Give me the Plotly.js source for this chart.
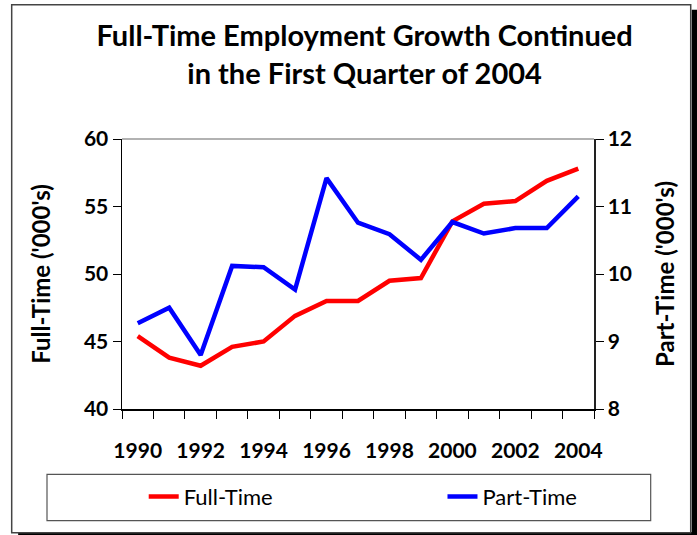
<!DOCTYPE html>
<html>
<head>
<meta charset="utf-8">
<script src="https://cdn.plot.ly/plotly-3.0.1.min.js"></script>
<style>
  body { margin: 0; background: #fff; }
  #chart { width: 697px; height: 535px; }
</style>
</head>
<body>
<div id="chart"></div>
<script>
const years = [1990, 1991, 1992, 1993, 1994, 1995, 1996, 1997, 1998, 1999, 2000, 2001, 2002, 2003, 2004];
const fullTime = [45.4, 43.8, 43.2, 44.6, 45.0, 46.9, 48.0, 48.0, 49.5, 49.7, 53.9, 55.2, 55.4, 56.9, 57.8];
const partTime = [9.27, 9.50, 8.80, 10.12, 10.10, 9.77, 11.42, 10.76, 10.59, 10.21, 10.77, 10.60, 10.68, 10.68, 11.15];
const yearTicks = [1990, 1992, 1994, 1996, 1998, 2000, 2002, 2004];
const yearLabels = ['1990', '1992', '1994', '1996', '1998', '2000', '2002', '2004'];

const font = 'Lato, "Open Sans", sans-serif';

const data = [
    {
        x: years,
        y: fullTime,
        name: 'Full-Time',
        type: 'scatter',
        mode: 'lines',
        legend: 'legend',
        line: {color: '#ff0000', width: 4.5}
    },
    {
        x: years,
        y: partTime,
        name: 'Part-Time',
        type: 'scatter',
        mode: 'lines',
        yaxis: 'y2',
        legend: 'legend2',
        line: {color: '#0000ff', width: 4.5}
    }
];

const legendStyle = {
    orientation: 'h',
    xanchor: 'left',
    y: -0.325, yanchor: 'middle',
    bgcolor: 'rgba(0,0,0,0)',
    borderwidth: 0,
    font: {size: 22, family: font, color: '#000'}
};

const layout = {
    width: 697,
    height: 535,
    margin: {l: 122, r: 103, t: 139, b: 126},
    paper_bgcolor: '#fff',
    plot_bgcolor: '#fff',
    font: {family: font, color: '#000'},
    title: {
        text: '<b>Full-Time Employment Growth Continued<br>in the First Quarter of 2004</b>',
        font: {size: 29, family: font, color: '#000'},
        xref: 'paper', x: 0.514, xanchor: 'center',
        yref: 'container', y: 0.914, yanchor: 'top'
    },
    xaxis: {
        range: [years[0] - 0.5, years[years.length - 1] + 0.5],
        tickmode: 'array',
        tickvals: yearTicks,
        ticktext: yearLabels,
        // invisible major ticks only push the labels down
        ticks: 'outside', ticklen: 22, tickcolor: 'rgba(0,0,0,0)',
        minor: {tick0: years[0] - 0.5, dtick: 1, ticks: 'outside', ticklen: 8, tickwidth: 1,
                tickcolor: '#000', showgrid: false},
        showline: true, linecolor: '#000', linewidth: 1.5,
        showgrid: false, zeroline: false,
        tickfont: {size: 21, family: font, color: '#000', weight: 'bold'}
    },
    yaxis: {
        range: [40, 60], dtick: 5,
        ticks: 'outside', ticklen: 8, tickwidth: 1, tickcolor: '#000',
        showline: true, linecolor: '#000', linewidth: 1.5,
        showgrid: false, zeroline: false,
        tickfont: {size: 21, family: font, color: '#000', weight: 'bold'},
        title: {text: "<b>Full-Time ('000's)</b>", standoff: 26, font: {size: 24, family: font, color: '#000'}}
    },
    yaxis2: {
        range: [8, 12], dtick: 1,
        overlaying: 'y', side: 'right',
        ticks: 'outside', ticklen: 8, tickwidth: 1, tickcolor: '#000',
        showline: true, linecolor: '#222', linewidth: 1.5,
        showgrid: false, zeroline: false,
        tickfont: {size: 21, family: font, color: '#000', weight: 'bold'},
        title: {text: "<b>Part-Time ('000's)</b>", standoff: 26, font: {size: 24, family: font, color: '#000'}}
    },
    showlegend: true,
    legend: Object.assign({x: 0.046}, legendStyle),
    legend2: Object.assign({x: 0.679}, legendStyle),
    shapes: [
        // plot area top edge
        {type: 'line', xref: 'paper', yref: 'paper', x0: 0, x1: 1, y0: 1, y1: 1,
         line: {color: '#999', width: 1.5}},
        // legend box
        {type: 'rect', xref: 'paper', yref: 'paper', x0: -0.1589, x1: 1.1201, y0: -0.4137, y1: -0.2422,
         line: {color: '#555', width: 1.2}},
        // outer frame shadow
        {type: 'rect', xref: 'paper', yref: 'paper', x0: 1.207, x1: 1.222, y0: -0.49, y1: 1.479,
         line: {width: 0}, fillcolor: '#000'},
        {type: 'rect', xref: 'paper', yref: 'paper', x0: -0.22, x1: 1.222, y0: -0.49, y1: -0.4555,
         line: {width: 0}, fillcolor: '#000'},
        // outer frame
        {type: 'rect', xref: 'paper', yref: 'paper', x0: -0.2337, x1: 1.2049, y0: -0.458, y1: 1.4974,
         line: {color: '#444', width: 1.5}}
    ]
};

Plotly.newPlot('chart', data, layout, {displayModeBar: false, staticPlot: true});
</script>
</body>
</html>
